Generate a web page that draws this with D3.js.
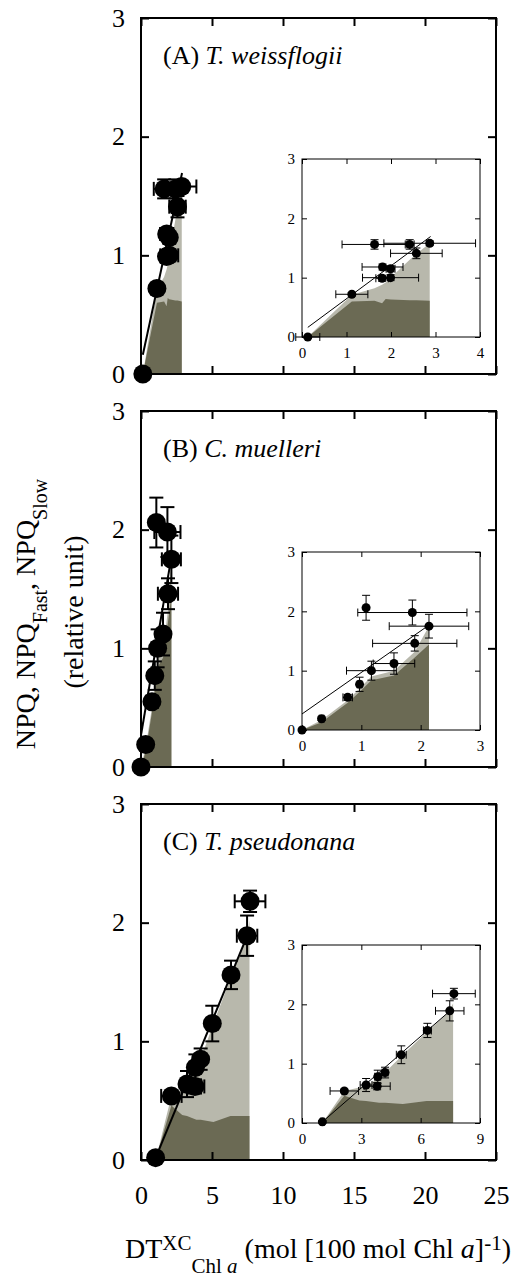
<!DOCTYPE html>
<html lang="en">
<head>
<meta charset="utf-8">
<script src="https://cdn.jsdelivr.net/npm/d3@7"></script>
<style>
  body { margin: 0; background: #fff; }
  svg text { font-family: "Liberation Serif", "Times New Roman", serif; fill: #000; }
</style>
</head>
<body>
<div id="chart"></div>
<script>
// ---- values ----
var panelTags = ["(A) ", "(B) ", "(C) "];
var species = ["T. weissflogii", "C. muelleri", "T. pseudonana"];

// (A) T. weissflogii : DT (x), NPQ (y) and their SD
var dtA     = [0.13, 1.12, 1.80, 1.99, 1.81, 1.99, 1.63, 2.42, 2.87, 2.57];
var npqA    = [0.00, 0.72, 0.99, 1.00, 1.18, 1.15, 1.56, 1.56, 1.58, 1.41];
var dtErrA  = [0.27, 0.36, 0.14, 0.63, 0.46, 0.10, 0.73, 0.10, 1.03, 0.58];
var npqErrA = [0.02, 0.03, 0.05, 0.05, 0.05, 0.05, 0.08, 0.08, 0.04, 0.09];
var areaDtA    = [0.13, 1.12, 1.63, 1.80, 1.88, 1.99, 2.42, 2.57, 2.87];
var areaTotalA = [0.00, 0.71, 0.82, 0.88, 0.92, 1.00, 1.30, 1.40, 1.58];
var areaSlowA  = [0.00, 0.60, 0.61, 0.57, 0.64, 0.63, 0.62, 0.62, 0.61];

// (B) C. muelleri
var dtB     = [0.00, 0.33, 0.77, 0.97, 1.17, 1.55, 1.90, 2.14, 1.86, 1.08];
var npqB    = [0.00, 0.19, 0.55, 0.77, 1.00, 1.12, 1.46, 1.75, 1.98, 2.06];
var dtErrB  = [0.02, 0.04, 0.08, 0.04, 0.42, 0.35, 0.71, 0.67, 0.92, 0.02];
var npqErrB = [0.02, 0.03, 0.05, 0.12, 0.16, 0.18, 0.13, 0.20, 0.21, 0.21];
var areaDtB    = [0.00, 0.33, 0.77, 0.97, 1.17, 1.55, 1.90, 2.14];
var areaTotalB = [0.00, 0.17, 0.50, 0.70, 0.90, 1.00, 1.32, 1.75];
var areaSlowB  = [0.00, 0.13, 0.46, 0.64, 0.84, 0.92, 1.22, 1.44];

// (C) T. pseudonana
var dtC     = [1.03, 2.14, 3.24, 3.80, 3.83, 4.20, 5.02, 6.34, 7.47, 7.68];
var npqC    = [0.02, 0.54, 0.64, 0.62, 0.78, 0.85, 1.15, 1.56, 1.89, 2.18];
var dtErrC  = [0.10, 0.72, 0.30, 0.66, 0.15, 0.15, 0.25, 0.20, 0.72, 1.08];
var npqErrC = [0.02, 0.03, 0.11, 0.06, 0.11, 0.09, 0.15, 0.12, 0.17, 0.09];
var areaDtC    = [1.03, 2.14, 2.90, 3.24, 3.90, 4.20, 5.10, 6.30, 7.47, 7.64];
var areaTotalC = [0.00, 0.54, 0.60, 0.64, 0.75, 0.85, 1.15, 1.53, 1.89, 2.02];
var areaSlowC  = [0.00, 0.46, 0.38, 0.37, 0.34, 0.34, 0.32, 0.37, 0.37, 0.37];

// linear fits NPQ = slope * DT + intercept
var fitSlope = [0.555, 0.70, 0.29];
var fitIntercept = [0.09, 0.27, -0.28];
var fitRange = [[0.13, 2.89], [0.00, 2.14], [1.00, 7.47]];

var mainXTicks = [0, 5, 10, 15, 20, 25];
var mainYTicks = [0, 1, 2, 3];
var insetXTicks = [[0, 1, 2, 3, 4], [0, 1, 2, 3], [0, 3, 6, 9]];
var insetYTicks = [0, 1, 2, 3];

var lightFill = "#b8b8ac", darkFill = "#6b6a54";

// ---- layout ----
var W = 527, H = 1277;
var mainLeft = 141, mainRight = 496, mainH = 356;
var panelTops = [18, 411, 804];
var insetLeft = 302, insetSize = 178, insetDrop = 141;

var panels = [
  {dt: dtA, npq: npqA, dtErr: dtErrA, npqErr: npqErrA, areaDt: areaDtA, total: areaTotalA, slow: areaSlowA},
  {dt: dtB, npq: npqB, dtErr: dtErrB, npqErr: npqErrB, areaDt: areaDtB, total: areaTotalB, slow: areaSlowB},
  {dt: dtC, npq: npqC, dtErr: dtErrC, npqErr: npqErrC, areaDt: areaDtC, total: areaTotalC, slow: areaSlowC}
];
panels.forEach(function(p, i) {
  p.tag = panelTags[i];
  p.name = species[i];
  p.slope = fitSlope[i];
  p.intercept = fitIntercept[i];
  p.fitRange = fitRange[i];
  p.xTicks = insetXTicks[i];
});

var svg = d3.select("#chart").append("svg")
    .attr("width", W)
    .attr("height", H);

function drawAreas(g, p, xs, ys) {
  var ar = p.areaDt.map(function(d, i) { return {dt: d, total: p.total[i], slow: p.slow[i]}; });
  g.append("path").datum(ar)
      .attr("fill", lightFill)
      .attr("d", d3.area().x(function(d) { return xs(d.dt); }).y0(ys(0)).y1(function(d) { return ys(d.total); }));
  g.append("path").datum(ar)
      .attr("fill", darkFill)
      .attr("d", d3.area().x(function(d) { return xs(d.dt); }).y0(ys(0)).y1(function(d) { return ys(d.slow); }));
}

// frame plus inward ticks on all four sides
function drawFrame(g, xs, ys, xTicks, yTicks, st, showX) {
  var x0 = xs.range()[0], x1 = xs.range()[1], y0 = ys.range()[0], y1 = ys.range()[1];
  function clean(a) {
    a.select(".domain").remove();
    a.selectAll(".tick line").attr("stroke-width", st.tickW);
    a.attr("font-size", st.font);
  }
  g.append("g").attr("transform", "translate(0," + y0 + ")")
      .call(d3.axisBottom(xs).tickValues(xTicks).tickSizeInner(-st.tick).tickSizeOuter(0)
        .tickPadding(st.xPad).tickFormat(showX ? d3.format("d") : ""))
      .call(clean);
  g.append("g").attr("transform", "translate(0," + y1 + ")")
      .call(d3.axisTop(xs).tickValues(xTicks).tickSizeInner(-st.tick).tickSizeOuter(0).tickFormat(""))
      .call(clean);
  g.append("g").attr("transform", "translate(" + x0 + ",0)")
      .call(d3.axisLeft(ys).tickValues(yTicks).tickSizeInner(-st.tick).tickSizeOuter(0)
        .tickPadding(st.yPad).tickFormat(d3.format("d")))
      .call(clean);
  g.append("g").attr("transform", "translate(" + x1 + ",0)")
      .call(d3.axisRight(ys).tickValues(yTicks).tickSizeInner(-st.tick).tickSizeOuter(0).tickFormat(""))
      .call(clean);
  g.append("rect")
      .attr("x", x0).attr("y", y1)
      .attr("width", x1 - x0).attr("height", y0 - y1)
      .attr("fill", "none").attr("stroke", "#000").attr("stroke-width", st.frame);
}

function drawPoints(g, p, xs, ys, st) {
  var pts = p.dt.map(function(d, i) {
    return {dt: d, npq: p.npq[i], ex: p.dtErr[i], ey: p.npqErr[i]};
  });
  g.append("path").datum(p.fitRange)
      .attr("fill", "none").attr("stroke", "#000").attr("stroke-width", st.line)
      .attr("d", d3.line()
        .x(function(d) { return xs(d); })
        .y(function(d) { return ys(p.slope * d + p.intercept); }));

  var eb = g.append("g").attr("stroke", "#000").attr("stroke-width", st.bar);
  pts.forEach(function(d) {
    var cx = xs(d.dt), cy = ys(d.npq);
    var xl = xs(d.dt - d.ex), xr = xs(d.dt + d.ex);
    var yb = ys(d.npq - d.ey), yt = ys(d.npq + d.ey);
    eb.append("line").attr("x1", xl).attr("x2", xr).attr("y1", cy).attr("y2", cy);
    eb.append("line").attr("x1", xl).attr("x2", xl).attr("y1", cy - st.cap).attr("y2", cy + st.cap);
    eb.append("line").attr("x1", xr).attr("x2", xr).attr("y1", cy - st.cap).attr("y2", cy + st.cap);
    eb.append("line").attr("x1", cx).attr("x2", cx).attr("y1", yb).attr("y2", yt);
    eb.append("line").attr("x1", cx - st.cap).attr("x2", cx + st.cap).attr("y1", yb).attr("y2", yb);
    eb.append("line").attr("x1", cx - st.cap).attr("x2", cx + st.cap).attr("y1", yt).attr("y2", yt);
  });

  g.append("g").selectAll("circle")
      .data(pts)
      .enter()
      .append("circle")
      .attr("cx", function(d) { return xs(d.dt); })
      .attr("cy", function(d) { return ys(d.npq); })
      .attr("r", st.r)
      .attr("fill", "#000");
}

var mainStyle = {tick: 8, tickW: 2, frame: 2, font: 26, xPad: 26, yPad: 16, line: 2, bar: 2, cap: 7, r: 9.5};
var insetStyle = {tick: 5, tickW: 1, frame: 1, font: 15, xPad: 10, yPad: 7, line: 1, bar: 1, cap: 4, r: 4.5};

var x = d3.scaleLinear().domain([0, 25]).range([mainLeft, mainRight]);

panels.forEach(function(p, i) {
  var top = panelTops[i];
  var y = d3.scaleLinear().domain([0, 3]).range([top + mainH, top]);
  var g = svg.append("g");

  drawAreas(g, p, x, y);
  drawFrame(g, x, y, mainXTicks, mainYTicks, mainStyle, i === 2);
  drawPoints(g, p, x, y, mainStyle);

  // panel title
  var t = g.append("text")
      .attr("x", 163)
      .attr("y", top + 46)
      .attr("font-size", 26);
  t.append("tspan").text(p.tag);
  t.append("tspan").attr("font-style", "italic").text(p.name);

  // inset with the same data on a zoomed x axis
  var iTop = top + insetDrop;
  var xi = d3.scaleLinear().domain([0, d3.max(p.xTicks)]).range([insetLeft, insetLeft + insetSize]);
  var yi = d3.scaleLinear().domain([0, 3]).range([iTop + insetSize, iTop]);
  var gi = g.append("g");
  drawAreas(gi, p, xi, yi);
  drawFrame(gi, xi, yi, p.xTicks, insetYTicks, insetStyle, true);
  drawPoints(gi, p, xi, yi, insetStyle);
});

// y axis title (two lines)
var yT = svg.append("text")
    .attr("transform", "translate(35,614) rotate(-90)")
    .attr("text-anchor", "middle")
    .attr("font-size", 28);
yT.append("tspan").text("NPQ, NPQ");
yT.append("tspan").attr("font-size", 20).attr("dy", 12).text("Fast");
yT.append("tspan").attr("dy", -12).text(", NPQ");
yT.append("tspan").attr("font-size", 20).attr("dy", 12).text("Slow");

svg.append("text")
    .attr("transform", "translate(83,612) rotate(-90)")
    .attr("text-anchor", "middle")
    .attr("font-size", 28)
    .text("(relative unit)");

// x axis title
var xT = svg.append("text")
    .attr("transform", "translate(318,1258)")
    .attr("text-anchor", "middle")
    .attr("font-size", 28);
xT.append("tspan").text("DT");
xT.append("tspan").attr("font-size", 21).attr("dy", -8).text("XC");
xT.append("tspan").attr("font-size", 21).attr("dy", 23).text("Chl ");
xT.append("tspan").attr("font-size", 21).attr("font-style", "italic").text("a");
xT.append("tspan").attr("dy", -15).text(" (mol [100 mol Chl ");
xT.append("tspan").attr("font-style", "italic").text("a");
xT.append("tspan").text("]");
xT.append("tspan").attr("font-size", 21).attr("dy", -8).text("-1");
xT.append("tspan").attr("dy", 8).text(")");
</script>
</body>
</html>
